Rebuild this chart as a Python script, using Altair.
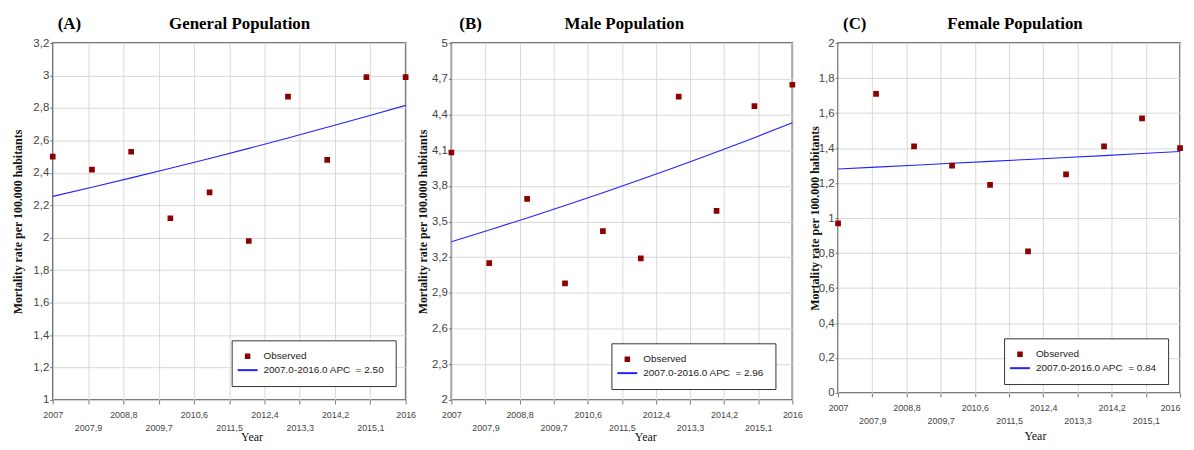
import altair as alt
import pandas as pd

years = [2007, 2008, 2009, 2010, 2011, 2012, 2013, 2014, 2015, 2016]
x_ticks = [2007.0, 2007.9, 2008.8, 2009.7, 2010.6, 2011.5, 2012.4, 2013.3, 2014.2, 2015.1, 2016.0]

gen_obs = [2.50, 2.42, 2.53, 2.12, 2.28, 1.98, 2.87, 2.48, 2.99, 2.99]
gen_fit = [2.255, 2.311, 2.369, 2.428, 2.489, 2.551, 2.615, 2.681, 2.748, 2.816]
male_obs = [4.08, 3.15, 3.69, 2.98, 3.42, 3.19, 4.55, 3.59, 4.47, 4.65]
male_fit = [3.330, 3.429, 3.530, 3.635, 3.742, 3.853, 3.967, 4.084, 4.205, 4.330]
fem_obs = [0.97, 1.71, 1.41, 1.30, 1.19, 0.81, 1.25, 1.41, 1.57, 1.40]
fem_fit = [1.280, 1.291, 1.302, 1.313, 1.324, 1.335, 1.346, 1.357, 1.369, 1.380]

titles = ["General Population", "Male Population", "Female Population"]
letters = ["(A)", "(B)", "(C)"]
fit_labels = [
    "2007.0-2016.0 APC \u00a0= 2.50",
    "2007.0-2016.0 APC \u00a0= 2.96",
    "2007.0-2016.0 APC \u00a0= 0.84",
]
y_ticks_gen = [1.0, 1.2, 1.4, 1.6, 1.8, 2.0, 2.2, 2.4, 2.6, 2.8, 3.0, 3.2]
y_ticks_male = [2.0, 2.3, 2.6, 2.9, 3.2, 3.5, 3.8, 4.1, 4.4, 4.7, 5.0]
y_ticks_fem = [0.0, 0.2, 0.4, 0.6, 0.8, 1.0, 1.2, 1.4, 1.6, 1.8, 2.0]

SQUARE = "M-0.7,-0.7H0.7V0.7H-0.7Z"
LINE = "M-4,0H4"
OBS_COLOR = "#8b0000"
FIT_COLOR = "#2222ff"
ALT_ROW = "round((datum.value - 2007) / 0.9) % 2 == 1"


def panel(i, obs, fit, ytks, w, h, lx, ly, ytpad, xtx, xty, title_x, letter_x, last_right):
    obs_df = pd.DataFrame({"year": years, "rate": obs, "series": "Observed"})
    fit_df = pd.DataFrame({"year": years, "rate": fit, "series": fit_labels[i]})
    let_df = pd.DataFrame({"letter": [letters[i]], "title": [titles[i]]})
    dom = ["Observed", fit_labels[i]]
    col_scale = alt.Scale(domain=dom, range=[OBS_COLOR, FIT_COLOR])
    shp_scale = alt.Scale(domain=dom, range=[SQUARE, LINE])
    leg = alt.Legend(
        title=None, orient="none", legendX=lx, legendY=ly,
        fillColor="white", strokeColor="#333333", padding=11, cornerRadius=0,
        labelFont="Liberation Sans", labelFontSize=10, labelColor="#222222",
        symbolSize=25, symbolStrokeWidth=2, labelOffset=11, rowPadding=3,
    )
    lab_align = {"condition": {"test": "datum.value >= 2016", "value": "right"}, "value": "center"} if last_right else "center"
    xaxis = alt.Axis(
        title="Year", values=x_ticks,
        labelExpr="replace(format(datum.value, '.1~f'), '.', ',')",
        labelFont="Liberation Sans", labelFontSize=9, labelColor="#444444",
        labelPadding={"condition": {"test": ALT_ROW, "value": 20}, "value": 7},
        labelAlign=lab_align,
        labelOverlap=False, labelFlush=False, labelBound=False,
        tickSize=4, tickColor="#777777", domain=False,
        grid=True, gridColor="#d9d9d9", gridWidth=1,
        titleFont="Liberation Serif", titleFontSize=12, titleFontWeight="normal",
        titleColor="#111111", titleX=xtx, titleY=xty, titleAlign="center", titleBaseline="middle",
    )
    yaxis = alt.Axis(
        title="Mortality rate per 100.000 habitants", values=ytks,
        labelExpr="replace(format(datum.value, '.2~f'), '.', ',')",
        labelFont="Liberation Sans", labelFontSize=11.5, labelColor="#444444",
        labelPadding=1, labelOverlap=False,
        tickSize=3, tickColor="#777777", domain=False,
        grid=True, gridColor="#d9d9d9", gridWidth=1,
        titleFont="Liberation Serif", titleFontSize=12, titleFontWeight="bold",
        titleColor="#111111", titlePadding=ytpad,
    )
    x = alt.X("year:Q", scale=alt.Scale(domain=[2007, 2016], nice=False, zero=False), axis=xaxis)
    y = alt.Y("rate:Q", scale=alt.Scale(domain=[ytks[0], ytks[-1]], nice=False, zero=False), axis=yaxis)

    line = alt.Chart(fit_df).mark_line(strokeWidth=1.1).encode(
        x=x, y=y,
        stroke=alt.Stroke("series:N", scale=col_scale, legend=leg),
    )
    pts = alt.Chart(obs_df).mark_point(size=36, strokeWidth=1.5, opacity=1).encode(
        x=x, y=y,
        fill=alt.Fill("series:N", scale=col_scale, legend=leg),
        stroke=alt.Stroke("series:N", scale=col_scale, legend=leg),
        shape=alt.Shape("series:N", scale=shp_scale, legend=leg),
    )
    letter = alt.Chart(let_df).mark_text(
        align="left", baseline="alphabetic", font="Liberation Serif",
        fontSize=17, fontWeight="bold", color="#000000",
    ).encode(x=alt.value(letter_x), y=alt.value(-14), text="letter:N")
    title = alt.Chart(let_df).mark_text(
        align="center", baseline="alphabetic", font="Liberation Serif",
        fontSize=17, fontWeight="bold", color="#000000",
    ).encode(x=alt.value(title_x), y=alt.value(-14), text="title:N")

    return alt.layer(line, pts, letter, title).properties(width=w, height=h)


pA = panel(0, gen_obs, gen_fit, y_ticks_gen, 355, 359, 180, 299, 8, 200, 37, 188, 5, False)
pB = panel(1, male_obs, male_fit, y_ticks_male, 343, 359, 161, 302, 2, 195, 37, 174, 8, False)
pC = panel(2, fem_obs, fem_fit, y_ticks_fem, 344, 352, 167, 297, -3, 198, 43, 178, 5, True)

chart = alt.hconcat(pA, pB, pC, spacing=46, bounds="flush").resolve_scale(
    x="independent", y="independent", fill="independent", stroke="independent", shape="independent"
).resolve_legend(
    fill="independent", stroke="independent", shape="independent"
).configure_view(
    stroke="#4d4d4d", strokeWidth=1.5
).properties(
    padding={"left": 3, "top": 5, "right": 0, "bottom": 0},
    background="white",
)

chart.save("out.html", embed_options={"renderer": "svg", "actions": False})
